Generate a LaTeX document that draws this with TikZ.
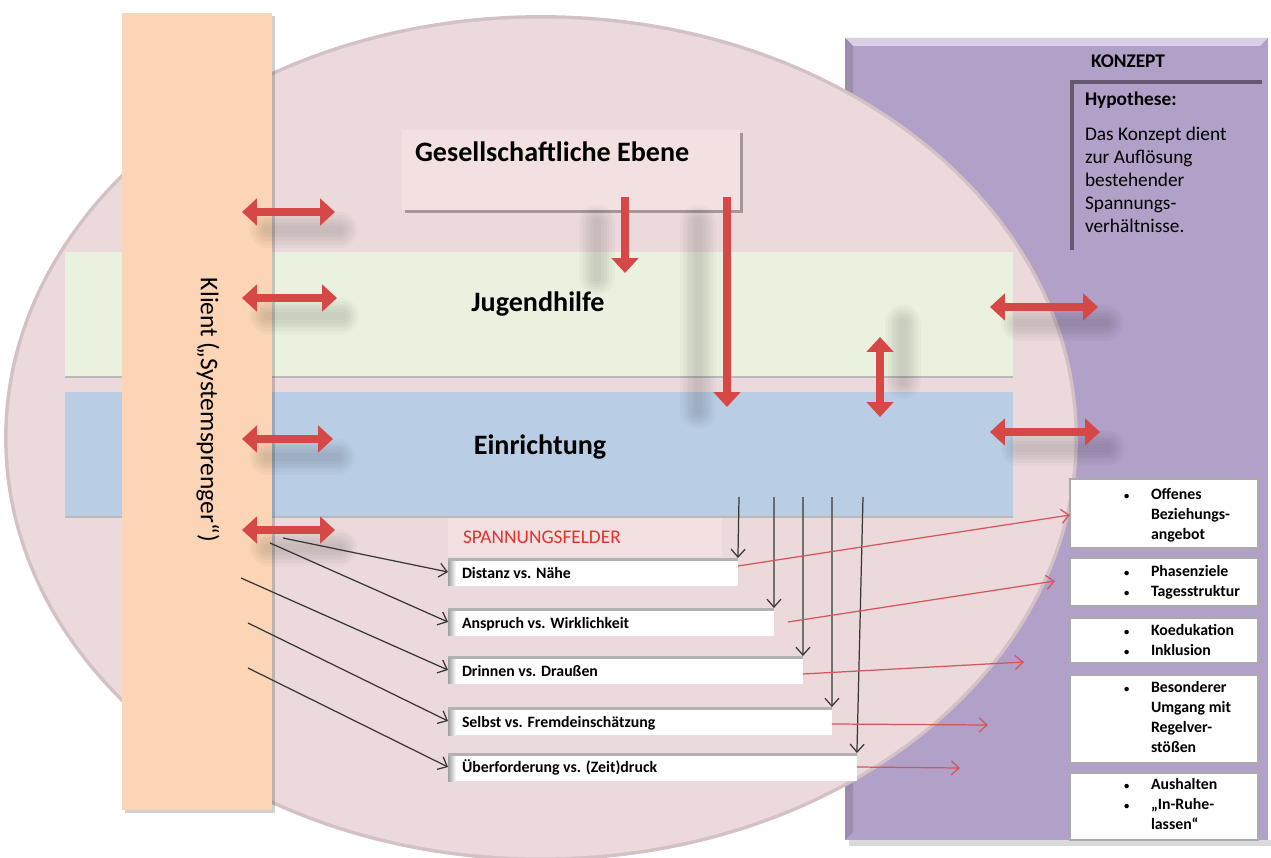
\documentclass[tikz,border=0pt]{standalone}
\usepackage{fontspec}
\setmainfont{Carlito}
\usetikzlibrary{arrows.meta}
\definecolor{ellfill}{RGB}{235,217,219}
\definecolor{ellrim}{RGB}{212,193,198}
\definecolor{bandgreen}{RGB}{235,241,223}
\definecolor{bandblue}{RGB}{185,205,229}
\definecolor{peach}{RGB}{251,213,181}
\definecolor{lilac}{RGB}{177,160,199}
\definecolor{lilactop}{RGB}{218,208,230}
\definecolor{boxpink}{RGB}{243,224,224}
\definecolor{redarrow}{RGB}{214,72,70}
\definecolor{redthin}{RGB}{212,85,90}
\definecolor{spanred}{RGB}{226,50,50}
\definecolor{darkline}{RGB}{55,55,55}
\definecolor{hypoline}{RGB}{100,90,112}
\definecolor{boxedge}{RGB}{170,170,170}
\newcommand\arrshadow[3]{%
  \foreach \w in {20pt,17pt,14pt,11pt,8pt,5pt}{\draw[softshadow=\w] ([shift={#3}]#1) -- ([shift={#3}]#2);}}
\begin{document}
\begin{tikzpicture}[x=0.02cm,y=-0.02cm,
  bigarr/.style={draw=redarrow,line width=4.5pt,-{Triangle[length=8.5pt,width=15pt]}},
  bigdbl/.style={draw=redarrow,line width=4.5pt,{Triangle[length=8.5pt,width=15pt]}-{Triangle[length=8.5pt,width=15pt]}},
  softshadow/.style={draw=black,line cap=round,opacity=0.025,line width=#1,shorten <=6pt,shorten >=6pt},
  blk/.style={draw=darkline,line width=0.7pt,-{Straight Barb[length=4.5pt,width=8pt]}},
  thinred/.style={draw=redthin,line width=0.7pt,-{Straight Barb[length=4.5pt,width=8pt]}},
  nosep/.style={inner sep=0pt,outer sep=0pt},
  bigtxt/.style={nosep,font=\bfseries\fontsize{16}{19}\selectfont},
  smalltxt/.style={nosep,font=\bfseries\fontsize{9}{11.34}\selectfont,align=left,anchor=north west},
  bullettxt/.style={nosep,font=\bfseries\fontsize{6}{11.34}\selectfont,align=left,anchor=north west},
  spantxt/.style={nosep,font=\bfseries\fontsize{9}{11}\selectfont,anchor=base west},
  whitebox/.style={nosep,fill=white,anchor=north west,minimum height=0.56cm},
  rbox/.style={nosep,fill=white,draw=boxedge,line width=0.8pt,anchor=north west,minimum width=3.76cm},
  konztxt/.style={nosep,font=\fontsize{11}{13.04}\selectfont}
]
\useasboundingbox (0,0) rectangle (1271,858);
\fill[white] (0,0) rectangle (1271,858);

% purple concept panel
\fill[black,opacity=0.15] (849,840) rectangle (1271,846);
\node[nosep,fill=lilac,anchor=north west,minimum width=8.46cm,minimum height=16.04cm] (panel) at (845,38) {};
\fill[lilactop] (panel.north west) -- (panel.north east) -- ([shift={(-8,8)}]panel.north east) -- ([shift={(8,8)}]panel.north west) -- cycle;
\fill[lilac!88!black] (panel.north west) -- ([shift={(8,8)}]panel.north west) -- ([shift={(8,-8)}]panel.south west) -- (panel.south west) -- cycle;

% big ellipse
\fill[ellrim] (541,438) ellipse [x radius=10.74cm, y radius=8.46cm];
\fill[ellfill] (541,438) ellipse [x radius=10.67cm, y radius=8.39cm];

% hypothesis frame and texts
\draw[hypoline,line width=2.2pt] (1072,250) -- (1072,82) -- (1262,82);
\node[konztxt,font=\bfseries\fontsize{11}{13}\selectfont,anchor=base] (konzept) at (1128,68) {KONZEPT};
\node[konztxt,font=\bfseries\fontsize{11}{13}\selectfont,anchor=base west] (hypo) at (1085,106) {Hypothese:};
\node[konztxt,align=left,anchor=north west] (hypotxt) at (1085,121.6) {\rule{0pt}{11pt}Das Konzept dient\\zur Auflösung\\bestehender\\Spannungs-\\verhältnisse.};

% right-hand boxes
\node[rbox,minimum height=1.38cm] (r1) at (1070,479) {};
\node[rbox,minimum height=0.96cm] (r2) at (1070,558) {};
\node[rbox,minimum height=0.9cm] (r3) at (1070,618) {};
\node[rbox,minimum height=1.76cm] (r4) at (1070,675) {};
\node[rbox,minimum height=1.34cm] (r5) at (1070,773) {};
\foreach \b in {r1,r2,r3,r4,r5}{\draw[gray!65,line width=1.6pt] (\b.north east) -- (\b.south east);}
\node[bullettxt] (r1b) at (1124,484) {\rule{0pt}{9pt}\textbullet};
\node[smalltxt] (r1t) at (1151,484) {\rule{0pt}{9pt}Offenes\\Beziehungs-\\angebot};
\node[bullettxt] (r2b) at (1124,561) {\rule{0pt}{9pt}\textbullet\\\textbullet};
\node[smalltxt] (r2t) at (1151,561) {\rule{0pt}{9pt}Phasenziele\\Tagesstruktur};
\node[bullettxt] (r3b) at (1124,620) {\rule{0pt}{9pt}\textbullet\\\textbullet};
\node[smalltxt] (r3t) at (1151,620) {\rule{0pt}{9pt}Koedukation\\Inklusion};
\node[bullettxt] (r4b) at (1124,677) {\rule{0pt}{9pt}\textbullet};
\node[smalltxt] (r4t) at (1151,677) {\rule{0pt}{9pt}Besonderer\\Umgang mit\\Regelver-\\stößen};
\node[bullettxt] (r5b) at (1124,774) {\rule{0pt}{9pt}\textbullet\\\textbullet};
\node[smalltxt] (r5t) at (1151,774) {\rule{0pt}{9pt}Aushalten\\„In-Ruhe-\\lassen“};

% Gesellschaftliche Ebene
\fill[black,opacity=0.3] (405,133) rectangle (743,213);
\node[nosep,fill=boxpink,anchor=north west,minimum width=6.76cm,minimum height=1.6cm] (ges) at (402,130) {};
\node[bigtxt,anchor=base west] (gestxt) at (415,162) {Gesellschaftliche Ebene};

% bands
\node[nosep,fill=bandgreen,anchor=north west,minimum width=18.96cm,minimum height=2.5cm] (jugend) at (65,252) {};
\draw[gray!55,line width=0.9pt] (jugend.south west) -- (jugend.south east);
\node[nosep,fill=bandblue,anchor=north west,minimum width=18.96cm,minimum height=2.5cm] (einr) at (65,392) {};
\draw[gray!55,line width=0.9pt] (einr.south west) -- (einr.south east);
\node[bigtxt,anchor=base] (jtxt) at (538,312) {Jugendhilfe};
\node[bigtxt,anchor=base] (etxt) at (540,454) {Einrichtung};

% client column
\fill[black,opacity=0.18] (125,16) rectangle (275,813);
\node[nosep,fill=peach,anchor=north west,minimum width=3cm,minimum height=15.94cm] (klient) at (122,13) {};
\node[nosep,rotate=-90,font=\fontsize{14.5}{17}\selectfont] (klienttxt) at (208,410) {Klient (\kern-0.12em„Systemsprenger“)};

% coordinates of the red block arrows
\coordinate (l1a) at (242,212); \coordinate (l1b) at (335,212);
\coordinate (l2a) at (242,298); \coordinate (l2b) at (337,298);
\coordinate (l3a) at (242,439); \coordinate (l3b) at (333,439);
\coordinate (l4a) at (242,530); \coordinate (l4b) at (335,530);
\coordinate (q1a) at (990,307); \coordinate (q1b) at (1098,307);
\coordinate (q2a) at (990,432); \coordinate (q2b) at (1100,432);
\coordinate (va) at (880,337); \coordinate (vb) at (880,417);
\coordinate (d1a) at (625,197); \coordinate (d1b) at (625,273);
\coordinate (d2a) at (727,197); \coordinate (d2b) at (727,407);

% shadows
\arrshadow{l1a}{l1b}{(15,18)}
\arrshadow{l2a}{l2b}{(15,18)}
\arrshadow{l3a}{l3b}{(15,18)}
\arrshadow{l4a}{l4b}{(15,18)}
\arrshadow{q1a}{q1b}{(18,16)}
\arrshadow{q2a}{q2b}{(18,16)}
\arrshadow{va}{vb}{(23,-25)}
\arrshadow{d1a}{d1b}{(-28,15)}
\arrshadow{d2a}{d2b}{(-29,15)}

% red block arrows
\draw[bigdbl] (l1a) -- (l1b);
\draw[bigdbl] (l2a) -- (l2b);
\draw[bigdbl] (l3a) -- (l3b);
\draw[bigdbl] (l4a) -- (l4b);
\draw[bigdbl] (q1a) -- (q1b);
\draw[bigdbl] (q2a) -- (q2b);
\draw[bigdbl] (va) -- (vb);
\draw[bigarr] (d1a) -- (d1b);
\draw[bigarr] (d2a) -- (d2b);

% Spannungsfelder
\node[nosep,fill=boxpink,anchor=north west,minimum width=5.48cm,minimum height=0.78cm] (spanbox) at (448,518) {};
\node[nosep,font=\fontsize{11}{13}\selectfont,text=spanred,anchor=base west] (spantitle) at (463,543) {SPANNUNGSFELDER};
\node[whitebox,minimum width=5.8cm] (s1) at (448,558) {};
\node[whitebox,minimum width=6.52cm] (s2) at (448,608) {};
\node[whitebox,minimum width=7.1cm] (s3) at (448,656) {};
\node[whitebox,minimum width=7.68cm] (s4) at (448,707) {};
\node[whitebox,minimum width=8.18cm] (s5) at (448,753) {};
\foreach \b in {s1,s2,s3,s4,s5}{
  \shade[left color=gray!75,right color=white] (\b.north west) rectangle ([shift={(8,0)}]\b.south west);
  \fill[gray!60] (\b.north west) rectangle ([shift={(0,3)}]\b.north east);
}
\node[spantxt] (s1t) at (462,578) {Distanz vs. Nähe};
\node[spantxt] (s2t) at (462,628) {Anspruch vs. Wirklichkeit};
\node[spantxt] (s3t) at (462,676) {Drinnen vs. Draußen};
\node[spantxt] (s4t) at (462,727) {Selbst vs. Fremdeinschätzung};
\node[spantxt] (s5t) at (462,772) {Überforderung vs. (Zeit)druck};

% black arrows from the client
\coordinate (k1) at (283,538);
\coordinate (k2) at (270,543);
\coordinate (k3) at (241,578);
\coordinate (k4) at (248,623);
\coordinate (k5) at (248,668);
\draw[blk] (k1) -- (s1.west);
\draw[blk] (k2) -- (s2.west);
\draw[blk] (k3) -- (s3.west);
\draw[blk] (k4) -- (s4.west);
\draw[blk] (k5) -- (s5.west);

% black arrows from the institution
\coordinate (t1) at (739,497);
\coordinate (t2) at (774,497);
\coordinate (t3) at (803,497);
\coordinate (t4) at (832,497);
\coordinate (t5) at (863,497);
\draw[blk] (t1) -- (s1.north east);
\draw[blk] (t2) -- (s2.north east);
\draw[blk] (t3) -- (s3.north east);
\draw[blk] (t4) -- (s4.north east);
\draw[blk] (t5) -- (s5.north east);

% thin red arrows to the concept
\coordinate (e1) at (1070,515);
\coordinate (e2) at (1055,581);
\coordinate (e3) at (1024,662);
\coordinate (e4) at (988,725);
\coordinate (e5) at (960,768);
\draw[thinred] ([yshift=0.12cm]s1.east) -- (e1);
\draw[thinred] ([xshift=0.28cm]s2.east) -- (e2);
\draw[thinred] ([yshift=-0.08cm]s3.east) -- (e3);
\draw[thinred] ([yshift=-0.06cm]s4.east) -- (e4);
\draw[thinred] (s5.east) -- (e5);
\end{tikzpicture}
\end{document}
